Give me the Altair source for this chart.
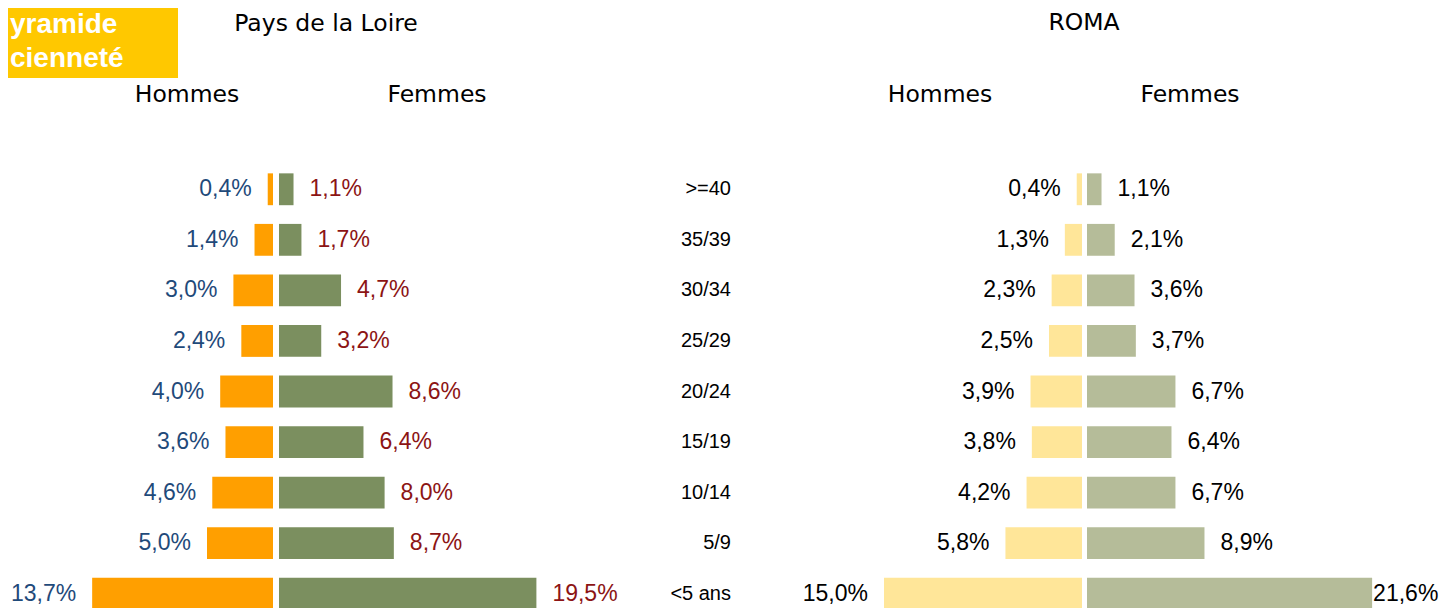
import altair as alt
import pandas as pd

ages = [">=40", "35/39", "30/34", "25/29", "20/24", "15/19", "10/14", "5/9", "<5 ans"]
pdl_hommes = [0.4, 1.4, 3.0, 2.4, 4.0, 3.6, 4.6, 5.0, 13.7]
pdl_femmes = [1.1, 1.7, 4.7, 3.2, 8.6, 6.4, 8.0, 8.7, 19.5]
roma_hommes = [0.4, 1.3, 2.3, 2.5, 3.9, 3.8, 4.2, 5.8, 15.0]
roma_femmes = [1.1, 2.1, 3.6, 3.7, 6.7, 6.4, 6.7, 8.9, 21.6]

PX = 13.2          # pixels per percentage point
BODY_H = 455
LABEL_FONT = "Liberation Sans"
HEAD_FONT = "DejaVu Sans"


def lab(v):
    return f"{v:.1f}".replace(".", ",") + "%"


def yenc():
    return alt.Y("age:N", sort=ages, axis=None,
                 scale=alt.Scale(domain=ages, paddingInner=0.37, paddingOuter=0.185))


def panel(values, width, reverse, bar_color, text_color, last_dx=None):
    df = pd.DataFrame({"age": ages, "v": values, "lab": [lab(v) for v in values]})
    x = alt.X("v:Q", axis=None,
              scale=alt.Scale(domain=[0, width / PX], reverse=reverse, nice=False, zero=True))
    base = alt.Chart(df)
    bars = base.mark_bar(color=bar_color).encode(x=x, y=yenc())
    align = "right" if reverse else "left"
    dx = -16 if reverse else 16
    tstyle = dict(align=align, baseline="middle", font=LABEL_FONT, fontSize=23, color=text_color)
    if last_dx is None:
        texts = base.mark_text(dx=dx, **tstyle).encode(x=x, y=yenc(), text="lab:N")
        layers = [bars, texts]
    else:
        t1 = base.transform_filter(alt.datum.age != ages[-1]).mark_text(dx=dx, **tstyle).encode(
            x=x, y=yenc(), text="lab:N")
        t2 = base.transform_filter(alt.datum.age == ages[-1]).mark_text(dx=last_dx, **tstyle).encode(
            x=x, y=yenc(), text="lab:N")
        layers = [bars, t1, t2]
    return alt.layer(*layers).properties(width=width, height=BODY_H)


p_pdl_h = panel(pdl_hommes, 265, True, "#FF9F00", "#1F4A7A")
p_pdl_f = panel(pdl_femmes, 360, False, "#7B8F5F", "#8C1414")
p_roma_h = panel(roma_hommes, 282, True, "#FFE699", "#000000")
p_roma_f = panel(roma_femmes, 358, False, "#B5BC99", "#000000", last_dx=1)

center = alt.Chart(pd.DataFrame({"age": ages})).mark_text(
    align="right", baseline="middle", font=LABEL_FONT, fontSize=20, color="#000000"
).encode(x=alt.value(92), y=yenc(), text="age:N").properties(width=161, height=BODY_H)

one = pd.DataFrame({"k": [0]})


def htext(s, x, y, size, font=HEAD_FONT, align="center", color="#000000", weight="normal"):
    return alt.Chart(one).mark_text(
        text=s, font=font, fontSize=size, align=align, baseline="middle",
        color=color, fontWeight=weight
    ).encode(x=alt.value(x), y=alt.value(y))


box = alt.Chart(one).mark_rect(color="#FFC800").encode(
    x=alt.value(0), x2=alt.value(170), y=alt.value(0), y2=alt.value(70))

header = alt.layer(
    box,
    htext("yramide", 2, 17, 28, font=LABEL_FONT, align="left", color="#FFFFFF", weight="bold"),
    htext("cienneté", 2, 51, 28, font=LABEL_FONT, align="left", color="#FFFFFF", weight="bold"),
    htext("Pays de la Loire", 318, 16, 23.5),
    htext("ROMA", 1076, 15, 23.5),
    htext("Hommes", 179, 87, 23.5),
    htext("Femmes", 429, 87, 23.5),
    htext("Hommes", 932, 87, 23.5),
    htext("Femmes", 1182, 87, 23.5),
).properties(width=1437, height=156)

left = alt.hconcat(p_pdl_h, p_pdl_f, spacing=6).resolve_scale(x="independent")
right = alt.hconcat(p_roma_h, p_roma_f, spacing=5).resolve_scale(x="independent")
body = alt.hconcat(left, center, right, spacing=0).resolve_scale(x="independent")

chart = alt.vconcat(header, body, spacing=0).properties(padding=0).configure_view(stroke=None)

chart.save("out.html", embed_options={"renderer": "svg", "actions": False})
